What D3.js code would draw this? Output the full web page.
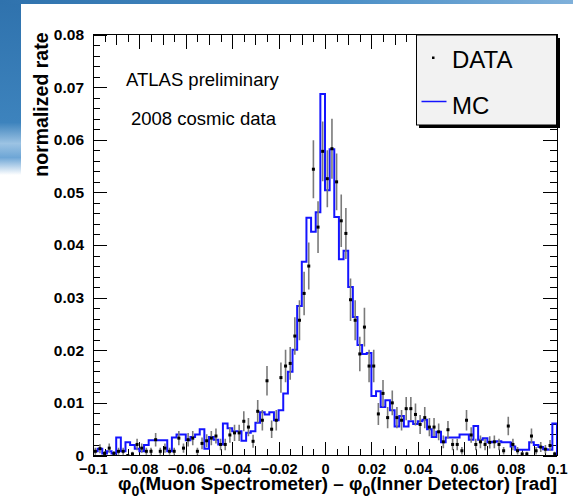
<!DOCTYPE html>
<html><head><meta charset="utf-8">
<script src="https://cdn.jsdelivr.net/npm/d3@7"></script>
<style>body{margin:0;background:#fff}svg{display:block}text{font-family:"Liberation Sans",Arial,Helvetica,sans-serif}</style>
</head><body>
<svg id="c" width="573" height="504"></svg>
<script>
// ---- data ----
const xDomain = [-0.1, 0.1];
const yDomain = [0, 0.08];
const binWidth = 0.002;
const mcValues = [
 0.0008,0.0013,0.0004,0.0008,0.0004,0.0034,0.0008,0.0025,0.0020,0.0013,
 0.0008,0.0020,0.0029,0.0029,0.0029,0.0029,0.0008,0.0034,0.0040,0.0040,
 0.0029,0.0035,0.0040,0.0050,0.0013,0.0035,0.0030,0.0021,0.0061,0.0052,
 0.0046,0.0046,0.0028,0.0043,0.0046,0.0062,0.0082,0.0078,0.0082,0.0067,
 0.0086,0.0118,0.0159,0.0201,0.0284,0.0368,0.0452,0.0425,0.0462,0.0687,
 0.0504,0.0582,0.0453,0.0373,0.0389,0.0320,0.0263,0.0210,0.0193,0.0195,
 0.0113,0.0122,0.0092,0.0105,0.0086,0.0055,0.0075,0.0055,0.0065,0.0060,
 0.0065,0.0068,0.0050,0.0035,0.0045,0.0025,0.0034,0.0034,0.0034,0.0040,
 0.0040,0.0030,0.0056,0.0030,0.0033,0.0025,0.0026,0.0027,0.0025,0.0025,
 0.0017,0.0011,0.0011,0.0011,0.0025,0.0020,0.0016,0.0012,0.0011,0.0061
];
const dataValues = [
 0.0008,0.0013,0.0004,0.0014,0.0004,0.0008,0.0008,0.0000,0.0003,0.0021,
 0.0014,0.0008,0.0008,0.0030,0.0008,0.0014,0.0008,0.0008,0.0033,0.0014,
 0.0030,0.0033,0.0008,0.0023,0.0028,0.0033,0.0037,0.0021,0.0021,0.0039,
 0.0043,0.0043,0.0065,0.0054,0.0027,0.0084,0.0067,0.0142,0.0050,0.0067,
 0.0148,0.0170,0.0175,0.0227,0.0257,0.0308,0.0360,0.0544,0.0434,0.0578,
 0.0526,0.0583,0.0520,0.0446,0.0422,0.0296,0.0257,0.0193,0.0244,0.0170,
 0.0170,0.0079,0.0118,0.0072,0.0100,0.0072,0.0067,0.0089,0.0089,0.0078,
 0.0059,0.0072,0.0054,0.0054,0.0045,0.0026,0.0049,0.0021,0.0021,0.0009,
 0.0067,0.0039,0.0021,0.0026,0.0021,0.0025,0.0026,0.0021,0.0009,0.0056,
 0.0021,0.0009,0.0003,0.0003,0.0037,0.0009,0.0016,0.0012,0.0019,0.0003
];
const dataEntries = 1800; // events used for the Poisson error bars
const xTickValues = [-0.1,-0.08,-0.06,-0.04,-0.02,0,0.02,0.04,0.06,0.08,0.1];
const xTickLabels = ["\u22120.1","\u22120.08","\u22120.06","\u22120.04","\u22120.02","0","0.02","0.04","0.06","0.08","0.1"];
const yTickValues = [0,0.01,0.02,0.03,0.04,0.05,0.06,0.07,0.08];
const yTickLabels = ["0","0.01","0.02","0.03","0.04","0.05","0.06","0.07","0.08"];
const legendLabels = ["DATA","MC"];
const infoLines = ["ATLAS preliminary","2008 cosmic data"];

// ---- layout ----
const svg = d3.select("#c");
const L = 93, R = 557, T = 34.5, B = 455.5;
const x = d3.scaleLinear().domain(xDomain).range([L, R]);
const y = d3.scaleLinear().domain(yDomain).range([B, T]);
const mcColor = "#1414ff";

// background decoration (slide)
const defs = svg.append("defs");
const g1 = defs.append("linearGradient").attr("id","gl").attr("x1",0).attr("y1",0).attr("x2",0).attr("y2",1);
g1.append("stop").attr("offset","0%").attr("stop-color","#2f72ad");
g1.append("stop").attr("offset","70%").attr("stop-color","#3d83bd");
g1.append("stop").attr("offset","82%").attr("stop-color","#9cc3e3");
g1.append("stop").attr("offset","90%").attr("stop-color","#6ea6d6");
g1.append("stop").attr("offset","100%").attr("stop-color","#ffffff");
const g2 = defs.append("linearGradient").attr("id","gt").attr("x1",0).attr("y1",0).attr("x2",1).attr("y2",0);
g2.append("stop").attr("offset","0%").attr("stop-color","#2f72ad");
g2.append("stop").attr("offset","60%").attr("stop-color","#4b8fc6");
g2.append("stop").attr("offset","100%").attr("stop-color","#7fb0da");
svg.append("rect").attr("x",0).attr("y",0).attr("width",21).attr("height",175).attr("fill","url(#gl)");
svg.append("rect").attr("x",0).attr("y",0).attr("width",573).attr("height",4).attr("fill","url(#gt)");

defs.append("clipPath").attr("id","frameClip").append("rect")
  .attr("x",L).attr("y",T).attr("width",R-L).attr("height",B-T);

// ---- axes ----
const xMinor = d3.range(0, 41).map(i => +(xDomain[0] + i*0.005).toFixed(4)).filter(v => Math.abs(Math.round(v*100) - v*100) > 1e-6);
const xMedium = d3.range(0, 10).map(i => +(-0.09 + i*0.02).toFixed(4));
const yMinor = d3.range(0, 41).map(i => +(i*0.002).toFixed(4)).filter(v => Math.abs(Math.round(v*100) - v*100) > 1e-6);

function tickAxis(axisFn, scale, vals, size, pos, labels, pad, fs) {
  const ax = axisFn(scale).tickValues(vals).tickSize(size).tickSizeOuter(0)
    .tickPadding(pad || 3)
    .tickFormat(labels ? ((d,i) => labels[i]) : () => "");
  const g = svg.append("g").attr("transform", pos).call(ax);
  g.select(".domain").remove();
  g.selectAll(".tick line").attr("stroke","#000").attr("stroke-width",1).attr("shape-rendering","crispEdges");
  g.selectAll("text").attr("fill","#000").attr("font-weight","bold").attr("font-size", fs || "15.5px")
    .style("font-family","'Liberation Sans',Arial,sans-serif");
  return g;
}
// bottom
tickAxis(d3.axisBottom, x, xMinor, -7, `translate(0,${B})`);
tickAxis(d3.axisBottom, x, xMedium, -10, `translate(0,${B})`);
tickAxis(d3.axisBottom, x, xTickValues, -14, `translate(0,${B})`, xTickLabels, 8, "14.6px");
// top
tickAxis(d3.axisTop, x, xMinor, -7, `translate(0,${T})`);
tickAxis(d3.axisTop, x, xMedium, -10, `translate(0,${T})`);
tickAxis(d3.axisTop, x, xTickValues, -14, `translate(0,${T})`);
// left
tickAxis(d3.axisLeft, y, yMinor, -7, `translate(${L},0)`);
tickAxis(d3.axisLeft, y, yTickValues, -14, `translate(${L},0)`, yTickLabels, 9);
// right
tickAxis(d3.axisRight, y, yMinor, -7, `translate(${R},0)`);
tickAxis(d3.axisRight, y, yTickValues, -14, `translate(${R},0)`);

// ---- MC histogram ----
const plot = svg.append("g").attr("clip-path","url(#frameClip)");
const stepPts = [[xDomain[0], 0]];
mcValues.forEach((v,i) => stepPts.push([xDomain[0] + i*binWidth, v]));
stepPts.push([xDomain[1], mcValues[mcValues.length-1]]);
stepPts.push([xDomain[1], 0]);
const line = d3.line().x(d => x(d[0])).y(d => y(d[1])).curve(d3.curveStepAfter);
plot.append("path").attr("d", line(stepPts)).attr("fill","none")
  .attr("stroke", mcColor).attr("stroke-width", 2);

// ---- DATA points ----
const pts = dataValues.map((v,i) => ({c: xDomain[0] + (i+0.5)*binWidth, v, e: Math.sqrt(v/dataEntries)}));
plot.selectAll("line.err").data(pts.filter(d => d.e > 0)).join("line").attr("class","err")
  .attr("x1", d => x(d.c)).attr("x2", d => x(d.c))
  .attr("y1", d => y(d.v - d.e)).attr("y2", d => y(d.v + d.e))
  .attr("stroke","#7a7a7a").attr("stroke-width",1.6);
plot.selectAll("rect.pt").data(pts).join("rect").attr("class","pt")
  .attr("x", d => x(d.c) - 1.5).attr("y", d => y(d.v) - 1.5)
  .attr("width",3).attr("height",3).attr("fill","#000");

// ---- frame ----
svg.append("rect").attr("x",L).attr("y",T).attr("width",R-L).attr("height",B-T)
  .attr("fill","none").attr("stroke","#000").attr("stroke-width",1).attr("shape-rendering","crispEdges");

// ---- titles ----
svg.append("text").attr("transform",`translate(48,${T - 2}) rotate(-90)`)
  .attr("text-anchor","end").attr("font-weight","bold").attr("font-size","19.5px").text("normalized rate");

const xt = svg.append("text").attr("x", R).attr("y", 490).attr("text-anchor","end")
  .attr("font-weight","bold").attr("font-size","18.8px");
xt.append("tspan").text("\u03c6");
xt.append("tspan").attr("font-size","14px").attr("dy",6).text("0");
xt.append("tspan").attr("dy",-6).text("(Muon Spectrometer) \u2013 \u03c6");
xt.append("tspan").attr("font-size","14px").attr("dy",6).text("0");
xt.append("tspan").attr("dy",-6).text("(Inner Detector) [rad]");

svg.append("text").attr("x",126).attr("y",86).attr("font-size","18.5px").text(infoLines[0]);
svg.append("text").attr("x",131).attr("y",125).attr("font-size","18.5px").text(infoLines[1]);

// ---- legend ----
const lg = svg.append("g");
lg.append("rect").attr("x",419).attr("y",38).attr("width",141).attr("height",90).attr("fill","#000");
lg.append("rect").attr("x",416.5).attr("y",35).attr("width",140).attr("height",90)
  .attr("fill","#f2f2f2").attr("stroke","#000").attr("stroke-width",1);
lg.append("rect").attr("x",432).attr("y",56.5).attr("width",2.5).attr("height",2.5).attr("fill","#000");
lg.append("line").attr("x1",421.5).attr("x2",446.5).attr("y1",101.5).attr("y2",101.5)
  .attr("stroke",mcColor).attr("stroke-width",1.5);
lg.append("text").attr("x",452).attr("y",67.5).attr("font-size","24px").text(legendLabels[0]);
lg.append("text").attr("x",452).attr("y",113.5).attr("font-size","24px").text(legendLabels[1]);
</script>
</body></html>
